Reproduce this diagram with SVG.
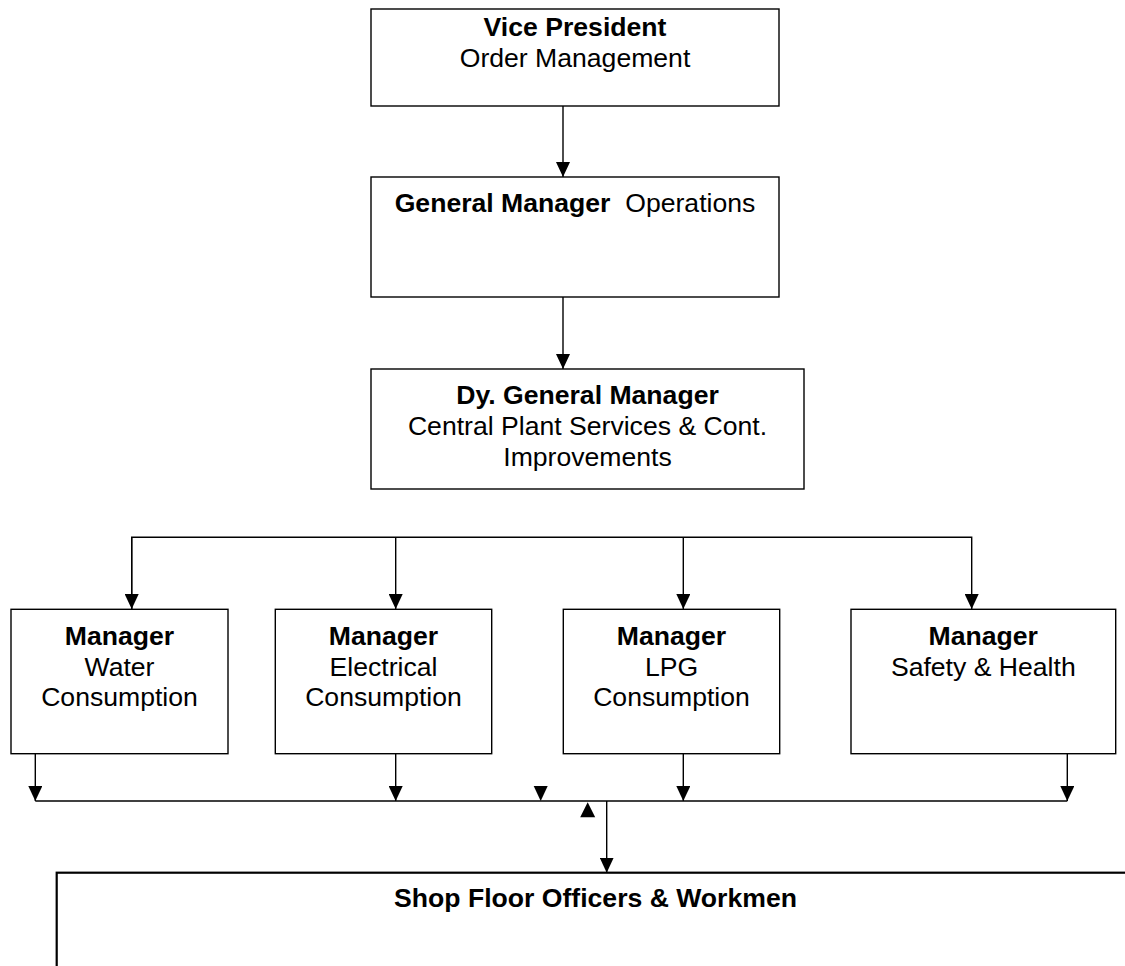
<svg xmlns="http://www.w3.org/2000/svg" width="1125" height="966" viewBox="0 0 1125 966">
<style>
.box{fill:#fff;stroke:#000;stroke-width:1.4}
.big{fill:#fff;stroke:#000;stroke-width:2.2}
.ln{fill:none;stroke:#000;stroke-width:1.4}
.ah{fill:#000;stroke:none}
text{font-family:"Liberation Sans",Arial,sans-serif;font-size:26.6px;fill:#000;text-anchor:middle}
.b{font-weight:bold}
</style>
<defs>
<marker id="arr" viewBox="0 0 15 14" refX="15" refY="7" markerWidth="15" markerHeight="14" markerUnits="userSpaceOnUse" orient="auto">
<path d="M0,0 L15,7 L0,14 z" fill="#000"/>
</marker>
</defs>
<rect width="1125" height="966" fill="#fff"/>
<g id="connectors">
<line class="ln" x1="563" y1="106" x2="563" y2="177" marker-end="url(#arr)"/>
<line class="ln" x1="563" y1="297" x2="563" y2="369" marker-end="url(#arr)"/>
<polyline class="ln" points="131.7,609 131.7,537.3 971.7,537.3 971.7,609" marker-end="url(#arr)"/>
<line class="ln" x1="131.7" y1="537.3" x2="131.7" y2="609" marker-end="url(#arr)"/>
<line class="ln" x1="395.7" y1="537.3" x2="395.7" y2="609" marker-end="url(#arr)"/>
<line class="ln" x1="683.3" y1="537.3" x2="683.3" y2="609" marker-end="url(#arr)"/>
<line class="ln" x1="35.3" y1="801" x2="1067.3" y2="801"/>
<line class="ln" x1="35.3" y1="753.7" x2="35.3" y2="801" marker-end="url(#arr)"/>
<line class="ln" x1="395.7" y1="753.7" x2="395.7" y2="801" marker-end="url(#arr)"/>
<line class="ln" x1="683.3" y1="753.7" x2="683.3" y2="801" marker-end="url(#arr)"/>
<line class="ln" x1="1067.3" y1="753.7" x2="1067.3" y2="801" marker-end="url(#arr)"/>
<line class="ln" x1="606.7" y1="801" x2="606.7" y2="872.7" marker-end="url(#arr)"/>
<polygon class="ah" points="533.7,786 547.7,786 540.7,801"/>
<polygon class="ah" points="580.2,817.3 595.2,817.3 587.7,802.3"/>
</g>
<g id="vp">
<rect class="box" x="371" y="9" width="408" height="97"/>
<text x="575" y="36"><tspan class="b">Vice President</tspan></text>
<text x="575" y="66.7">Order Management</text>
</g>
<g id="gm">
<rect class="box" x="371" y="177" width="408" height="120"/>
<text x="575" y="212.3" xml:space="preserve"><tspan class="b">General Manager</tspan>  Operations</text>
</g>
<g id="dgm">
<rect class="box" x="371" y="369" width="433" height="120"/>
<text x="587.5" y="404" class="b">Dy. General Manager</text>
<text x="587.5" y="435">Central Plant Services &amp; Cont.</text>
<text x="587.5" y="465.5">Improvements</text>
</g>
<g id="water">
<rect class="box" x="11" y="609.3" width="217" height="144.4"/>
<text x="119.5" y="645" class="b">Manager</text>
<text x="119.5" y="675.5">Water</text>
<text x="119.5" y="706">Consumption</text>
</g>
<g id="electrical">
<rect class="box" x="275.3" y="609.3" width="216.4" height="144.4"/>
<text x="383.5" y="645" class="b">Manager</text>
<text x="383.5" y="675.5">Electrical</text>
<text x="383.5" y="706">Consumption</text>
</g>
<g id="lpg">
<rect class="box" x="563.3" y="609.3" width="216.4" height="144.4"/>
<text x="671.5" y="645" class="b">Manager</text>
<text x="671.5" y="675.5">LPG</text>
<text x="671.5" y="706">Consumption</text>
</g>
<g id="safety">
<rect class="box" x="851" y="609.3" width="264.7" height="144.4"/>
<text x="983.3" y="645" class="b">Manager</text>
<text x="983.3" y="675.5">Safety &amp; Health</text>
</g>
<g id="shopfloor">
<rect class="big" x="56.7" y="872.7" width="1100" height="120"/>
<text x="595.5" y="906.7" class="b">Shop Floor Officers &amp; Workmen</text>
</g>
</svg>
